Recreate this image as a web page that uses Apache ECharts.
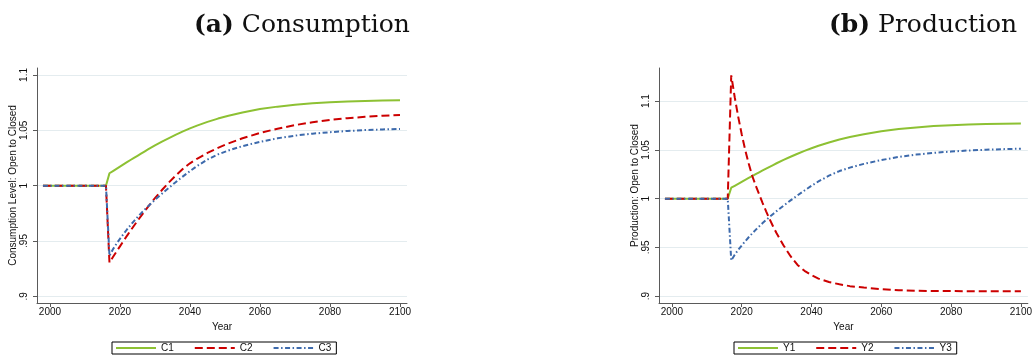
<!DOCTYPE html>
<html>
<head>
<meta charset="utf-8">
<script src="https://cdn.jsdelivr.net/npm/echarts@6/dist/echarts.min.js"></script>
<style>
  html, body { margin: 0; padding: 0; background: #ffffff; }
  #chart { width: 1035px; height: 356px; }
</style>
</head>
<body>
<div id="chart"></div>
<script>
// Simulation years (flat baseline before the 2017 opening)
const years = [1998, 2016, 2017, 2018, 2019, 2020, 2021, 2022, 2023, 2024, 2025, 2026, 2027, 2028, 2029, 2030,
  2032, 2034, 2036, 2038, 2040, 2042, 2045, 2048, 2051, 2055, 2060, 2065, 2070, 2075, 2080, 2085, 2090, 2095, 2100];

// Consumption level, open relative to closed
const c1 = [1, 1, 1.0112, 1.0132, 1.0152, 1.0172, 1.0192, 1.0212, 1.0232, 1.0251, 1.0270, 1.0289, 1.0308, 1.0327, 1.0345, 1.0363,
  1.0397, 1.0430, 1.0461, 1.0490, 1.0517, 1.0542, 1.0576, 1.0606, 1.0632, 1.0661, 1.0692, 1.0714, 1.0731, 1.0744, 1.0753, 1.0760, 1.0765, 1.0769, 1.0772];
const c2 = [1, 1, 0.9305, 0.9355, 0.9404, 0.9452, 0.9500, 0.9547, 0.9593, 0.9638, 0.9682, 0.9725, 0.9767, 0.9808, 0.9848, 0.9887,
  0.9961, 1.0030, 1.0094, 1.0152, 1.0202, 1.0243, 1.0296, 1.0342, 1.0382, 1.0428, 1.0476, 1.0515, 1.0547, 1.0573, 1.0594, 1.0610, 1.0622, 1.0632, 1.0639];
const c3 = [1, 1, 0.9366, 0.9425, 0.9475, 0.9520, 0.9563, 0.9604, 0.9643, 0.9680, 0.9716, 0.9750, 0.9782, 0.9813, 0.9843, 0.9872,
  0.9928, 0.9982, 1.0034, 1.0084, 1.0132, 1.0177, 1.0236, 1.0283, 1.0318, 1.0357, 1.0396, 1.0428, 1.0452, 1.0470, 1.0483, 1.0494, 1.0502, 1.0508, 1.0513];

// Production, open relative to closed
const y1 = [1, 1, 1.0112, 1.0132, 1.0152, 1.0172, 1.0192, 1.0212, 1.0232, 1.0251, 1.0270, 1.0289, 1.0308, 1.0327, 1.0345, 1.0363,
  1.0397, 1.0430, 1.0461, 1.0490, 1.0517, 1.0542, 1.0576, 1.0606, 1.0632, 1.0661, 1.0692, 1.0714, 1.0731, 1.0744, 1.0753, 1.0760, 1.0765, 1.0769, 1.0772];
const y2 = [1, 1, 1.1265, 1.1040, 1.0840, 1.0660, 1.0500, 1.0360, 1.0235, 1.0135, 1.0045, 0.9955, 0.9870, 0.9790, 0.9715, 0.9645,
  0.9520, 0.9410, 0.9320, 0.9260, 0.9215, 0.9180, 0.9145, 0.9122, 0.9103, 0.9088, 0.9072, 0.9062, 0.9056, 0.9053, 0.9052, 0.9051, 0.9050, 0.9050, 0.9050];
const y3 = [1, 1, 0.9366, 0.9425, 0.9475, 0.9520, 0.9563, 0.9604, 0.9643, 0.9680, 0.9716, 0.9750, 0.9782, 0.9813, 0.9843, 0.9872,
  0.9928, 0.9982, 1.0034, 1.0084, 1.0132, 1.0177, 1.0236, 1.0283, 1.0318, 1.0357, 1.0396, 1.0428, 1.0452, 1.0470, 1.0483, 1.0494, 1.0502, 1.0508, 1.0513];

// Axis ticks
const yearTicks = [2000, 2020, 2040, 2060, 2080, 2100];
const levelTicks = [0.9, 0.95, 1, 1.05, 1.1];

const pairs = arr => years.map((yr, i) => [yr, arr[i]]);
const SANS = 'Liberation Sans';
const GREEN = '#8dc133', RED = '#cc0000', BLUE = '#3d6aac';
const styles = {
  solid: { color: GREEN, type: 'solid' },
  dash: { color: RED, type: [8, 4] },
  dashDot: { color: BLUE, type: [5, 2.5, 1.5, 2.5] }
};

function levelLabel(v) {
  const s = String(+v.toFixed(2));
  return s.startsWith('0.') ? s.slice(1) : s;
}

function xAxis(gridIndex) {
  return {
    type: 'value', gridIndex, min: 1996.3, max: 2102,
    name: 'Year', nameLocation: 'middle', nameGap: 17,
    nameTextStyle: { fontFamily: SANS, fontSize: 10, color: '#111' },
    axisLine: { show: true, onZero: false, lineStyle: { color: '#5a5a5a', width: 1 } },
    axisTick: { show: true, length: 4, customValues: yearTicks, lineStyle: { color: '#5a5a5a' } },
    axisLabel: { customValues: yearTicks, fontFamily: SANS, fontSize: 10, color: '#111', margin: 4,
      formatter: v => String(Math.round(v)) },
    splitLine: { show: false }
  };
}

function yAxis(gridIndex, name, min, max) {
  return {
    type: 'value', gridIndex, min, max,
    name, nameLocation: 'middle', nameGap: 19, nameRotate: 90,
    nameTextStyle: { fontFamily: SANS, fontSize: 10, color: '#111' },
    axisLine: { show: true, onZero: false, lineStyle: { color: '#5a5a5a', width: 1 } },
    axisTick: { show: true, length: 4, customValues: levelTicks, lineStyle: { color: '#5a5a5a' } },
    axisLabel: { customValues: levelTicks, rotate: 90, fontFamily: SANS, fontSize: 10, color: '#111', margin: 8,
      formatter: levelLabel },
    splitLine: { show: true, lineStyle: { color: '#e4ecef', width: 1 } }
  };
}

function line(name, data, style, idx) {
  return {
    name, type: 'line', xAxisIndex: idx, yAxisIndex: idx,
    data: pairs(data), symbol: 'none', showSymbol: false, smooth: false,
    lineStyle: { color: style.color, width: 2, type: style.type },
    itemStyle: { color: style.color },
    emphasis: { disabled: true }
  };
}

function legend(names, left) {
  return {
    data: names, left, top: 342, itemWidth: 40, itemHeight: 10, itemGap: 20,
    padding: [1, 5, 1, 3], borderColor: '#000', borderWidth: 1,
    itemStyle: { opacity: 0 },
    textStyle: { fontFamily: SANS, fontSize: 10, color: '#111' }
  };
}

const titleStyle = {
  fontFamily: 'DejaVu Serif', fontSize: 25, fontWeight: 'normal', color: '#111',
  rich: {
    b: { fontFamily: 'DejaVu Serif', fontSize: 25, fontWeight: 'bold', color: '#111' },
    r: { fontFamily: 'DejaVu Serif', fontSize: 25, fontWeight: 'normal', color: '#111' }
  }
};

const chart = echarts.init(document.getElementById('chart'), null, { renderer: 'canvas' });
chart.setOption({
  animation: false,
  backgroundColor: '#ffffff',
  title: [
    { text: '{b|(a)} {r|Consumption}', left: 189, top: 8, textStyle: titleStyle },
    { text: '{b|(b)} {r|Production}', left: 824, top: 8, textStyle: titleStyle }
  ],
  grid: [
    { left: 37, top: 68, width: 370, height: 235 },
    { left: 659, top: 68, width: 369, height: 235 }
  ],
  xAxis: [xAxis(0), xAxis(1)],
  yAxis: [
    yAxis(0, 'Consumption Level: Open to Closed', 0.894, 1.1063),
    yAxis(1, 'Production: Open to Closed', 0.893, 1.134)
  ],
  legend: [legend(['C1', 'C2', 'C3'], 112), legend(['Y1', 'Y2', 'Y3'], 734)],
  series: [
    line('C1', c1, styles.solid, 0),
    line('C2', c2, styles.dash, 0),
    line('C3', c3, styles.dashDot, 0),
    line('Y1', y1, styles.solid, 1),
    line('Y2', y2, styles.dash, 1),
    line('Y3', y3, styles.dashDot, 1)
  ]
});
</script>
</body>
</html>
